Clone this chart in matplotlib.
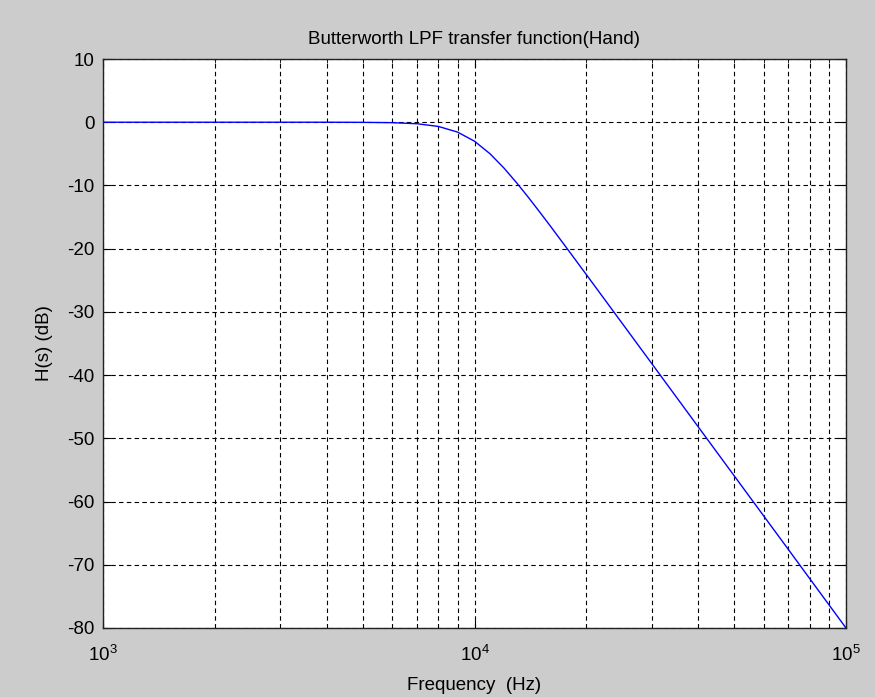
import numpy as np
import matplotlib
matplotlib.use('Agg')
import matplotlib.pyplot as plt
from matplotlib.ticker import LogLocator, NullFormatter

plt.rcParams['font.family'] = ['Liberation Sans', 'DejaVu Sans']
plt.rcParams['mathtext.fontset'] = 'custom'
plt.rcParams['mathtext.rm'] = 'Liberation Sans'
plt.rcParams['axes.unicode_minus'] = False

# values (Hz, dB)
freq_hz = [1000, 2000, 3000, 4000, 5000, 6000, 7000, 8000, 9000, 10000,
           11000, 12000, 13000, 14000, 15000, 16000, 18000, 20000, 25000,
           30000, 40000, 50000, 60000, 70000, 80000, 90000, 100000]
gain_db = [0.0, 0.0, 0.0, 0.0, -0.02, -0.07, -0.24, -0.67, -1.56, -3.0,
           -4.97, -7.24, -9.62, -11.97, -14.25, -16.42, -20.46, -24.1, -31.84,
           -38.17, -48.17, -55.92, -62.25, -67.6, -72.25, -76.34, -80.0]

y_ticks = [-80, -70, -60, -50, -40, -30, -20, -10, 0, 10]

fig = plt.figure(figsize=(8.75, 6.97), dpi=100, facecolor='#cccccc')
ax = fig.add_axes([103 / 875, 1 - 628 / 697, 743 / 875, 569 / 697])
ax.set_facecolor('white')

ax.semilogx(freq_hz, gain_db, color='#0000ff', linewidth=1.0)

ax.set_xlim(1e3, 1e5)
ax.set_ylim(-80, 10)
ax.set_yticks(y_ticks)
ax.xaxis.set_major_locator(LogLocator(base=10))
ax.xaxis.set_minor_locator(LogLocator(base=10, subs=np.arange(2, 10)))
ax.xaxis.set_minor_formatter(NullFormatter())

ax.grid(True, which='major', color='black', linestyle=(0, (4, 3)), linewidth=0.8)
ax.grid(True, which='minor', axis='x', color='black', linestyle=(0, (4, 3)), linewidth=0.8)

ax.tick_params(which='both', direction='in', top=True, right=True,
               labelsize=13.5, colors='black')
ax.tick_params(which='major', length=6)
ax.tick_params(which='minor', length=3)
ax.tick_params(axis='x', pad=12)
ax.tick_params(axis='y', pad=6)
for s in ax.spines.values():
    s.set_linewidth(1.0)
    s.set_color('#222222')

ax.set_title('Butterworth LPF transfer function(Hand)', fontsize=13.5, pad=11)
ax.set_xlabel('Frequency  (Hz)', fontsize=13.5, labelpad=9)
ax.set_ylabel('H(s) (dB)', fontsize=13.5, labelpad=10)

fig.savefig('out.png', dpi=100, facecolor=fig.get_facecolor())
